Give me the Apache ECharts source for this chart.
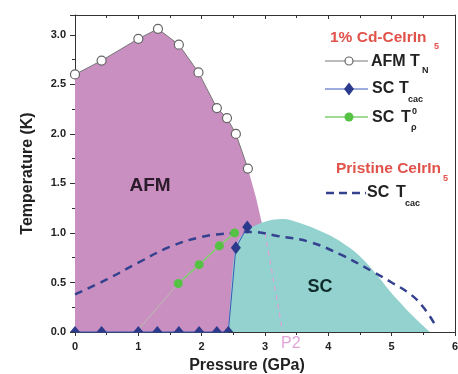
<!DOCTYPE html>
<html>
<head>
<meta charset="utf-8">
<script src="https://cdn.jsdelivr.net/npm/echarts@6/dist/echarts.min.js"></script>
<style>
html,body{margin:0;padding:0;background:#fff;}
#main{width:458px;height:374px;}
</style>
</head>
<body>
<div id="main"></div>
<script>
// ---- data ----
// AFM T_N (1% Cd-CeIrIn5), open circles
var tnP = [0.00, 0.42, 1.00, 1.31, 1.64, 1.95, 2.24, 2.40, 2.54, 2.73];
var tnT = [2.60, 2.74, 2.96, 3.06, 2.90, 2.62, 2.26, 2.16, 2.00, 1.65];
// AFM region boundary continuation below last T_N point (mostly hidden by SC)
var afmTailP = [2.86, 2.95, 3.05, 3.12];
var afmTailT = [1.35, 1.10, 0.70, 0.00];
// SC dome (shaded region)
var scDomeP = [2.42, 2.46, 2.52, 2.60, 2.75, 2.90, 3.10, 3.30, 3.50, 3.80, 4.10, 4.40, 4.60, 4.80, 5.00, 5.20, 5.40, 5.60];
var scDomeT = [0.00, 0.40, 0.80, 0.95, 1.04, 1.09, 1.13, 1.14, 1.11, 1.04, 0.95, 0.82, 0.70, 0.55, 0.39, 0.25, 0.12, 0.00];
// SC T_cac (1% Cd), diamonds
var tcacP = [0.00, 0.42, 1.00, 1.30, 1.64, 1.96, 2.24, 2.42, 2.54, 2.72];
var tcacT = [0.00, 0.00, 0.00, 0.00, 0.00, 0.00, 0.00, 0.00, 0.85, 1.06];
// SC T_rho^0 (1% Cd), green circles
var trhoP = [1.63, 1.96, 2.28, 2.52];
var trhoT = [0.49, 0.68, 0.87, 1.00];
// extrapolation of T_rho^0 toward zero
var trhoFitP = [0.97, 1.63];
var trhoFitT = [0.00, 0.49];
// Pristine CeIrIn5 SC T_cac (dashed)
var priP = [0.00, 0.50, 1.00, 1.50, 2.00, 2.50, 2.80, 3.20, 3.70, 4.20, 4.70, 5.00, 5.30, 5.50, 5.68];
var priT = [0.38, 0.53, 0.70, 0.86, 0.96, 1.00, 1.01, 0.97, 0.91, 0.78, 0.61, 0.50, 0.38, 0.25, 0.08];
// P2 boundary (pink dashed)
var p2P = [3.00, 3.28];
var p2T = [1.00, 0.00];
// axes
var xMin = 0, xMax = 6, xStep = 1;
var yMin = 0, yMax = 3.2, yStep = 0.5;

function pairs(xs, ys){ return xs.map(function(x,i){ return [x, ys[i]]; }); }

var PINK = '#c98fc0', TEAL = '#93d2cf', NAVY = '#2b3a8c', GREEN = '#55c244', RED = '#e0524a';

var afmData = pairs(tnP.concat(afmTailP), tnT.concat(afmTailT));
var tcacData = pairs(tcacP, tcacT).map(function(d){
  if (d[1] === 0) {
    return {value: d, symbol: 'triangle', symbolSize: [10, 6], symbolOffset: [0, -3]};
  }
  return {value: d};
});

var chart = echarts.init(document.getElementById('main'), null, {renderer: 'canvas'});

var lblStyle = {color: '#222', fontWeight: 'bold', fontSize: 11, fontFamily: 'Liberation Sans, Arial, sans-serif'};
var axLine = {show: true, onZero: false, lineStyle: {color: '#333', width: 1}};

var option = {
  animation: false,
  backgroundColor: '#fff',
  grid: {left: 75, right: 3, top: 15, bottom: 42, containLabel: false, outerBoundsMode: 'none'},
  xAxis: [{
    type: 'value', min: xMin, max: xMax, interval: xStep, position: 'bottom',
    axisLine: axLine,
    axisTick: {show: true, inside: false, length: 4, lineStyle: {color: '#333'}},
    minorTick: {show: true, splitNumber: 2, length: 3, lineStyle: {color: '#333'}},
    axisLabel: Object.assign({margin: 9}, lblStyle),
    splitLine: {show: false},
    name: 'Pressure (GPa)', nameLocation: 'middle', nameGap: 26,
    nameTextStyle: {fontWeight: 'bold', fontSize: 16, color: '#222', fontFamily: 'Liberation Sans, Arial, sans-serif', padding: [0, 36, 0, 0]}
  }, {
    type: 'value', min: xMin, max: xMax, interval: xStep, position: 'top',
    axisLine: axLine,
    axisTick: {show: true, inside: true, length: 4, lineStyle: {color: '#333'}},
    minorTick: {show: true, splitNumber: 2, length: 3, lineStyle: {color: '#333'}},
    axisLabel: {show: false}, splitLine: {show: false}
  }],
  yAxis: [{
    type: 'value', min: yMin, max: yMax, interval: yStep, position: 'left',
    axisLine: axLine,
    axisTick: {show: true, inside: false, length: 5, lineStyle: {color: '#333'}},
    minorTick: {show: true, splitNumber: 2, length: 3, lineStyle: {color: '#333'}},
    axisLabel: Object.assign({margin: 9, showMaxLabel: false, formatter: function(v){ return v.toFixed(1); }}, lblStyle),
    splitLine: {show: false},
    name: 'Temperature (K)', nameLocation: 'middle', nameGap: 39,
    nameTextStyle: {fontWeight: 'bold', fontSize: 16, color: '#222', fontFamily: 'Liberation Sans, Arial, sans-serif'}
  }, {
    type: 'value', min: yMin, max: yMax, interval: yStep, position: 'right',
    axisLine: axLine,
    axisTick: {show: false}, axisLabel: {show: false}, splitLine: {show: false}
  }],
  series: [
    {type: 'line', data: afmData, symbol: 'none', lineStyle: {width: 0, opacity: 0},
     areaStyle: {color: PINK, opacity: 1}, z: 1, silent: true},
    {type: 'line', data: pairs(scDomeP, scDomeT), symbol: 'none', smooth: 0.3, lineStyle: {width: 0, opacity: 0},
     areaStyle: {color: TEAL, opacity: 1}, z: 2, silent: true},
    {type: 'line', data: pairs(p2P, p2T), symbol: 'none', lineStyle: {color: '#dda2d6', width: 1.2, type: [5, 4]}, z: 3},
    {type: 'line', data: pairs(trhoFitP, trhoFitT), symbol: 'none', lineStyle: {color: '#b9bfae', width: 1}, z: 3},
    {type: 'line', data: pairs(priP, priT), symbol: 'none', smooth: 0.4,
     lineStyle: {color: '#34418f', width: 2.5, type: [8, 6]}, z: 4},
    {type: 'line', data: pairs(tnP, tnT), symbol: 'circle', symbolSize: 9,
     itemStyle: {color: '#fff', borderColor: '#666', borderWidth: 1.2},
     lineStyle: {color: '#777', width: 1}, z: 5},
    {type: 'line', data: tcacData, symbol: 'diamond', symbolSize: [10, 13],
     itemStyle: {color: NAVY}, lineStyle: {color: '#3a58b8', width: 1}, z: 6, clip: false},
    {type: 'line', data: pairs(trhoP, trhoT), symbol: 'circle', symbolSize: 9,
     itemStyle: {color: GREEN}, lineStyle: {color: '#7fcf6e', width: 1.5}, z: 6}
  ],
  graphic: []
};

var FF = 'Liberation Sans, Arial, sans-serif';
function txt(x, y, s, size, color, weight, align){
  return {type: 'text', x: x, y: y, z: 100,
    style: {text: s, fontSize: size, fill: color, fontWeight: weight || 'bold', fontFamily: FF,
            textAlign: align || 'left', textVerticalAlign: 'middle'}};
}
var g = option.graphic;
// region labels
g.push(txt(150, 186, 'AFM', 19, '#2a1a2a', 'bold', 'center'));
g.push(txt(320, 287, 'SC', 18, '#0f2b2b', 'bold', 'center'));
g.push(txt(281, 344, 'P2', 16, '#e2a5d9', 'normal'));
// legend: 1% Cd-CeIrIn5
g.push(txt(330, 38, '1% Cd-CeIrIn', 15.5, RED, 'bold'));
g.push(txt(434, 47, '5', 9, RED, 'bold'));
// AFM T_N
g.push({type: 'line', z: 100, shape: {x1: 325, y1: 61, x2: 368, y2: 61}, style: {stroke: '#777', lineWidth: 1}});
g.push({type: 'circle', z: 101, shape: {cx: 349, cy: 61, r: 4}, style: {fill: '#fff', stroke: '#666', lineWidth: 1.2}});
g.push(txt(371, 62, 'AFM T', 16, '#222', 'bold'));
g.push(txt(422, 71, 'N', 9, '#222', 'bold'));
// SC T_cac
g.push({type: 'line', z: 100, shape: {x1: 325, y1: 89, x2: 368, y2: 89}, style: {stroke: '#3a58b8', lineWidth: 1}});
g.push({type: 'polygon', z: 101, shape: {points: [[349, 82.5], [354, 89], [349, 95.5], [344, 89]]}, style: {fill: NAVY}});
g.push(txt(372, 89, 'SC', 16, '#222', 'bold'));
g.push(txt(399, 89, 'T', 16, '#222', 'bold'));
g.push(txt(408, 100, 'cac', 9, '#222', 'bold'));
// SC T_rho^0
g.push({type: 'line', z: 100, shape: {x1: 325, y1: 117, x2: 368, y2: 117}, style: {stroke: '#7fcf6e', lineWidth: 1.5}});
g.push({type: 'circle', z: 101, shape: {cx: 349, cy: 117, r: 4.5}, style: {fill: GREEN}});
g.push(txt(372, 118, 'SC', 16, '#222', 'bold'));
g.push(txt(401, 118, 'T', 16, '#222', 'bold'));
g.push(txt(412, 112, '0', 9, '#222', 'bold'));
g.push(txt(411, 128, 'ρ', 9, '#222', 'bold'));
// Pristine CeIrIn5
g.push(txt(336, 169, 'Pristine CeIrIn', 15.5, RED, 'bold'));
g.push(txt(443, 179, '5', 9, RED, 'bold'));
g.push({type: 'line', z: 100, shape: {x1: 326, y1: 193, x2: 366, y2: 193}, style: {stroke: '#34418f', lineWidth: 2.5, lineDash: [8, 5]}});
g.push(txt(367, 193, 'SC', 16, '#222', 'bold'));
g.push(txt(396, 193, 'T', 16, '#222', 'bold'));
g.push(txt(405, 204, 'cac', 9, '#222', 'bold'));

chart.setOption(option);
</script>
</body>
</html>
